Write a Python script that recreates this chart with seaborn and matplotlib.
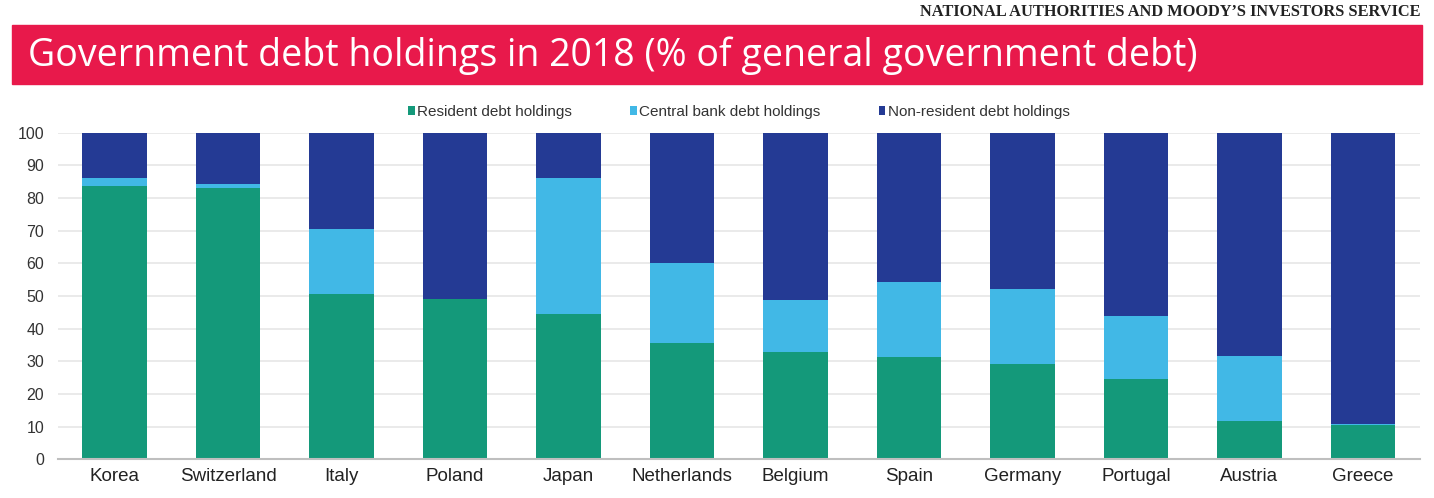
import numpy as np
import matplotlib.pyplot as plt
import seaborn as sns
from matplotlib.patches import Rectangle

sns.set_style('white')
plt.rcParams['font.family'] = ['Liberation Sans', 'DejaVu Sans']

# data (% of general government debt)
countries = ['Korea', 'Switzerland', 'Italy', 'Poland', 'Japan', 'Netherlands',
             'Belgium', 'Spain', 'Germany', 'Portugal', 'Austria', 'Greece']
resident = [83.7, 83.2, 50.7, 49.1, 44.4, 35.5, 33.0, 31.4, 29.1, 24.7, 11.7, 10.5]
central_bank = [2.5, 1.1, 19.8, 0.0, 41.8, 24.5, 15.7, 22.9, 23.1, 19.2, 19.9, 0.3]
non_resident = [100 - r - c for r, c in zip(resident, central_bank)]

series_names = ['Resident debt holdings', 'Central bank debt holdings', 'Non-resident debt holdings']
colors = ['#14997A', '#41B8E6', '#243A94']

fig = plt.figure(figsize=(14.34, 4.98), dpi=100)
ax = fig.add_axes([0.0404, 0.0777, 0.9496, 0.6558])

# stacked bars
bottom = np.zeros(len(countries))
for name, vals, col in zip(series_names, [resident, central_bank, non_resident], colors):
    sns.barplot(x=countries, y=vals, bottom=bottom, color=col, width=0.57,
                ax=ax, label=name, linewidth=0, saturation=1)
    bottom += np.array(vals)

ax.set_ylim(0, 100)
ax.set_xlim(-0.5, len(countries) - 0.5)
ax.set_yticks(np.arange(0, 101, 10))
ax.yaxis.grid(True, color='#E6E6E6', linewidth=1.2)
ax.set_axisbelow(True)
for s in ['top', 'right', 'left']:
    ax.spines[s].set_visible(False)
ax.spines['bottom'].set_color('#BFBFBF')
ax.spines['bottom'].set_linewidth(1.5)
ax.tick_params(axis='y', labelsize=11.5, colors='#333333', length=0, pad=10)
ax.tick_params(axis='x', labelsize=13.5, colors='#222222', length=0, pad=6)
ax.set_xlabel('')
ax.set_ylabel('')

# legend
leg = ax.legend(loc='lower center', bbox_to_anchor=(0.5, 1.0), ncol=3, frameon=False,
                fontsize=11, handlelength=0.45, handleheight=0.45, handletextpad=0.15,
                columnspacing=3.8, labelcolor='#333333')

# title band
fig.patches.append(Rectangle((12 / 1434, 1 - 84 / 498), 1410 / 1434, 59 / 498,
                             transform=fig.transFigure, color='#E8194B', zorder=0))
fig.text(28 / 1434, 1 - 56 / 498, 'Government debt holdings in 2018 (% of general government debt)',
         color='white', fontsize=27, va='center', ha='left', family=['Open Sans', 'DejaVu Sans'])
fig.text(1420 / 1434, 1 - 12 / 498, 'NATIONAL AUTHORITIES AND MOODY\u2019S INVESTORS SERVICE',
         color='#222222', fontsize=11.8, va='center', ha='right', fontweight='bold',
         family=['Liberation Serif', 'DejaVu Serif'])

fig.savefig('out.png', dpi=100)
